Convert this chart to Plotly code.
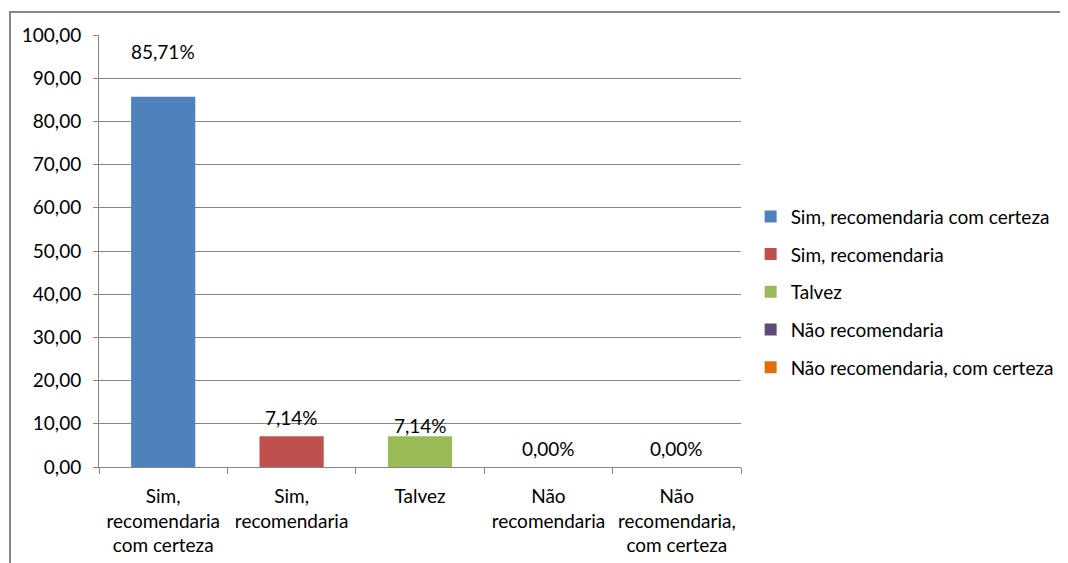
import plotly.graph_objects as go

categories = ["Sim, recomendaria com certeza", "Sim, recomendaria", "Talvez",
              "Não recomendaria", "Não recomendaria, com certeza"]
tick_labels = ["Sim,<br>recomendaria<br>com certeza", "Sim,<br>recomendaria", "Talvez",
               "Não<br>recomendaria", "Não<br>recomendaria,<br>com certeza"]
values = [85.71, 7.14, 7.14, 0.00, 0.00]
colors = ["#4F81BD", "#C0504D", "#9BBB59", "#604A7B", "#E46C0A"]
label_shift = [45, 19, 11, 19, 19]

FONT = "Lato"
FS = 19
fig = go.Figure()
for i, (cat, val, col) in enumerate(zip(categories, values, colors)):
    fig.add_trace(go.Bar(
        x=[tick_labels[i]], y=[val], name=cat, marker_color=col,
        marker_line_width=0, width=0.5, legendgroup=f"g{i}",
    ))
    fig.add_annotation(
        x=tick_labels[i], y=val, xref="x", yref="y",
        text=f"{val:.2f}".replace(".", ",") + "%",
        showarrow=False, yshift=label_shift[i],
        font=dict(family=FONT, size=FS, color="#000"),
    )

fig.add_shape(type="rect", xref="paper", yref="paper",
              x0=-0.1386, x1=1.8, y0=-0.5, y1=1.0532,
              line=dict(color="#868686", width=2), fillcolor="rgba(0,0,0,0)", layer="below")

fig.update_layout(
    width=1060, height=555,
    margin=dict(l=91, r=327, t=27, b=96, autoexpand=False),
    paper_bgcolor="white", plot_bgcolor="white",
    barmode="overlay",
    separators=",.",
    font=dict(family=FONT, size=FS, color="#000"),
    showlegend=True,
    legend=dict(x=1.015, y=0.405, xanchor="left", yanchor="middle",
                font=dict(family=FONT, size=FS, color="#000"),
                tracegroupgap=10, itemwidth=30, bgcolor="rgba(0,0,0,0)"),
    xaxis=dict(type="category", tickson="boundaries", ticks="outside", ticklen=6,
               tickcolor="#868686", showline=True, linecolor="#868686", linewidth=1,
               showgrid=False, tickfont=dict(family=FONT, size=FS, color="#000"),
               ticklabelstandoff=12, range=[-0.5, 4.5]),
    yaxis=dict(range=[0, 100], dtick=10, tickformat=".2f", ticks="outside", ticklen=5,
               tickcolor="#868686", showline=True, linecolor="#868686", linewidth=1,
               showgrid=True, gridcolor="#868686", gridwidth=1, zeroline=False,
               ticklabelstandoff=8,
               tickfont=dict(family=FONT, size=FS, color="#000")),
)
fig.write_html("out.html")
